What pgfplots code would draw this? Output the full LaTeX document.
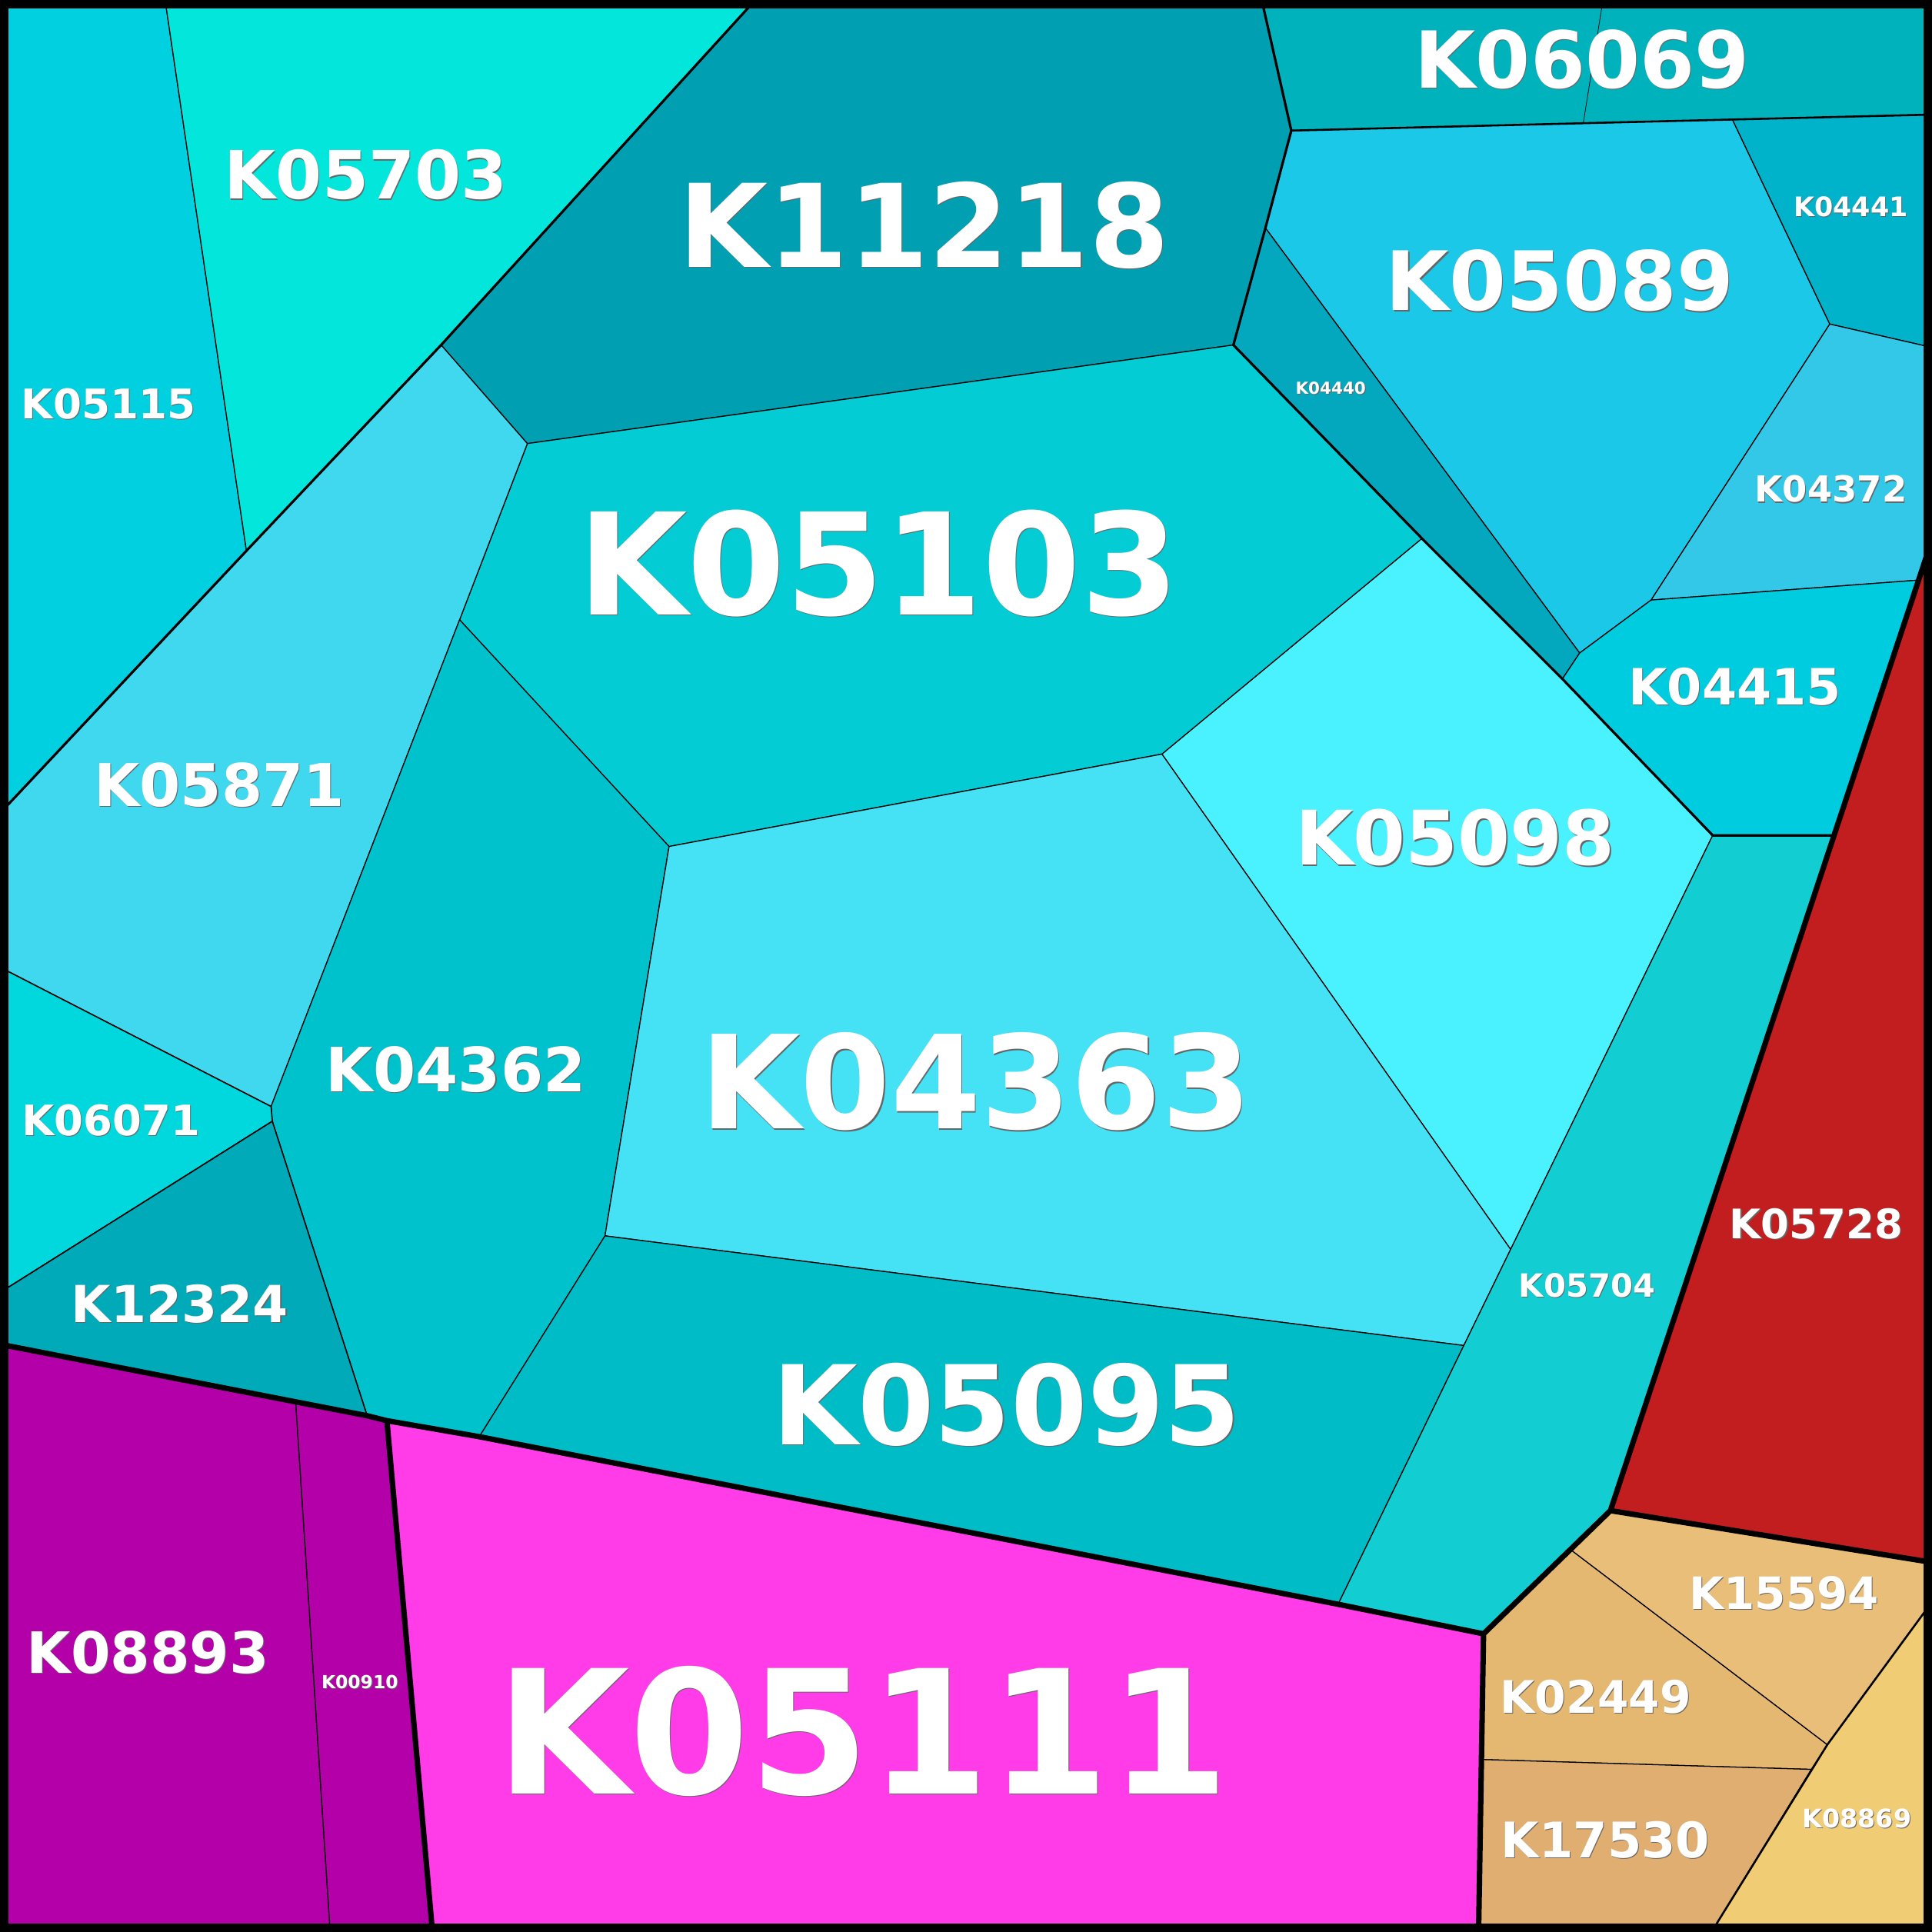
\documentclass[border=0pt]{standalone}
\usepackage{pgfplots}
\pgfplotsset{compat=1.18}
\usepackage{fontspec}
\setmainfont{DejaVu Sans}
\definecolor{cA}{HTML}{00D0E0}
\definecolor{cB}{HTML}{03E6DC}
\definecolor{cC}{HTML}{00A0B2}
\definecolor{cD}{HTML}{00B2BC}
\definecolor{cE}{HTML}{1CC8E8}
\definecolor{cF}{HTML}{00B2CA}
\definecolor{cG}{HTML}{33C8E8}
\definecolor{cH}{HTML}{03A8BE}
\definecolor{cI}{HTML}{00CCE0}
\definecolor{cJ}{HTML}{C21E20}
\definecolor{cK}{HTML}{4AF2FF}
\definecolor{cL}{HTML}{03CCD4}
\definecolor{cM}{HTML}{40D8EE}
\definecolor{cN}{HTML}{00C2CC}
\definecolor{cO}{HTML}{45E2F5}
\definecolor{cP}{HTML}{00BCC6}
\definecolor{cQ}{HTML}{12CDD2}
\definecolor{cR}{HTML}{00D8DE}
\definecolor{cS}{HTML}{00AAB8}
\definecolor{cT}{HTML}{B400A8}
\definecolor{cU}{HTML}{FF3CE8}
\definecolor{cV}{HTML}{E8BE78}
\definecolor{cW}{HTML}{E4B870}
\definecolor{cX}{HTML}{E0AE70}
\definecolor{cY}{HTML}{F0CC74}
\newcommand{\lab}[4]{%
\node[inner sep=0pt, text=black!60, xshift=0.35pt, yshift=-0.35pt, font=\fontsize{#3}{#3}\selectfont\bfseries] at (axis cs:#1,#2) {#4};
\node[inner sep=0pt, text=white, font=\fontsize{#3}{#3}\selectfont\bfseries] at (axis cs:#1,#2) {#4};}
\begin{document}
\begin{tikzpicture}
\begin{axis}[width=784pt, height=784pt, scale only axis, hide axis,
  xmin=0, xmax=1568, ymin=0, ymax=1568, y dir=reverse, clip=true]
% cells
\addplot[fill=cA, draw=black, line width=0.4pt] coordinates {(0,0) (134,0) (200,447) (0,660)} -- cycle;
\addplot[fill=cB, draw=black, line width=0.4pt] coordinates {(134,0) (613,0) (358,280) (200,447)} -- cycle;
\addplot[fill=cC, draw=black, line width=0.4pt] coordinates {(613,0) (1024,0) (1048,106) (1027,185) (1001,280) (428,360) (358,280)} -- cycle;
\addplot[fill=cD, draw=black, line width=0.2pt] coordinates {(1024,0) (1301,0) (1285,100) (1048,106)} -- cycle;
\addplot[fill=cD, draw=black, line width=0.2pt] coordinates {(1301,0) (1568,0) (1568,93) (1285,100)} -- cycle;
\addplot[fill=cE, draw=black, line width=0.4pt] coordinates {(1048,106) (1406,97) (1485,263) (1340,487) (1282,530) (1027,185)} -- cycle;
\addplot[fill=cF, draw=black, line width=0.4pt] coordinates {(1406,97) (1568,93) (1568,282) (1485,263)} -- cycle;
\addplot[fill=cG, draw=black, line width=0.4pt] coordinates {(1485,263) (1568,282) (1568,470) (1340,487)} -- cycle;
\addplot[fill=cH, draw=black, line width=0.4pt] coordinates {(1027,185) (1282,530) (1268,551) (1154,437) (1001,280)} -- cycle;
\addplot[fill=cI, draw=black, line width=0.4pt] coordinates {(1282,530) (1340,487) (1568,470) (1568,452) (1487,678) (1390,678) (1268,551)} -- cycle;
\addplot[fill=cJ, draw=black, line width=0.4pt] coordinates {(1568,440) (1568,1268) (1307,1226)} -- cycle;
\addplot[fill=cK, draw=black, line width=0.4pt] coordinates {(1154,437) (1268,551) (1390,678) (1226,1014) (943,612)} -- cycle;
\addplot[fill=cL, draw=black, line width=0.4pt] coordinates {(428,360) (1001,280) (1154,437) (943,612) (543,687) (373,503)} -- cycle;
\addplot[fill=cM, draw=black, line width=0.4pt] coordinates {(0,660) (200,447) (358,280) (428,360) (373,503) (220,898) (0,785)} -- cycle;
\addplot[fill=cN, draw=black, line width=0.4pt] coordinates {(373,503) (543,687) (491,1003) (389,1166) (298,1149) (221,910) (220,898)} -- cycle;
\addplot[fill=cO, draw=black, line width=0.4pt] coordinates {(543,687) (943,612) (1226,1014) (1188,1092) (491,1003)} -- cycle;
\addplot[fill=cP, draw=black, line width=0.4pt] coordinates {(491,1003) (1188,1092) (1086,1302) (389,1166)} -- cycle;
\addplot[fill=cQ, draw=black, line width=0.4pt] coordinates {(1390,678) (1487,678) (1307,1226) (1204,1326) (1086,1302) (1188,1092) (1226,1014)} -- cycle;
\addplot[fill=cR, draw=black, line width=0.5pt] coordinates {(0,785) (220,898) (221,910) (0,1049)} -- cycle;
\addplot[fill=cS, draw=black, line width=0.5pt] coordinates {(0,1049) (221,910) (298,1149) (0,1091)} -- cycle;
\addplot[fill=cT, draw=black, line width=0.4pt] coordinates {(0,1091) (240,1138) (268,1568) (0,1568)} -- cycle;
\addplot[fill=cT, draw=black, line width=0.4pt] coordinates {(240,1138) (314,1153) (351,1568) (268,1568)} -- cycle;
\addplot[fill=cU, draw=black, line width=0.4pt] coordinates {(314,1153) (1204,1326) (1200,1568) (351,1568)} -- cycle;
\addplot[fill=cV, draw=black, line width=0.4pt] coordinates {(1275,1258) (1307,1226) (1568,1268) (1568,1300) (1483,1416)} -- cycle;
\addplot[fill=cW, draw=black, line width=0.4pt] coordinates {(1204,1326) (1275,1258) (1483,1416) (1470,1436) (1203,1428)} -- cycle;
\addplot[fill=cX, draw=black, line width=0.4pt] coordinates {(1203,1428) (1470,1436) (1389,1568) (1200,1568)} -- cycle;
\addplot[fill=cY, draw=black, line width=0.4pt] coordinates {(1483,1416) (1568,1300) (1568,1568) (1389,1568)} -- cycle;
% medium boundaries
\addplot[black, line width=1pt] coordinates {(0,660) (200,447) (358,280) (613,0)};
\addplot[black, line width=1pt] coordinates {(1024,0) (1048,106) (1027,185) (1001,280) (1154,437) (1268,551) (1390,678) (1487,678)};
\addplot[black, line width=0.8pt] coordinates {(1048,106) (1285,100) (1568,93)};
\addplot[black, line width=0.8pt] coordinates {(1568,1300) (1483,1416) (1389,1568)};
% thick group boundaries
\addplot[black, line width=2.2pt, line join=round] coordinates {(0,1091) (298,1149) (314,1153) (389,1166) (1086,1302) (1204,1326) (1307,1226) (1564,450)};
\addplot[black, line width=2.2pt, line join=round] coordinates {(314,1153) (351,1568)};
\addplot[black, line width=2.2pt, line join=round] coordinates {(1204,1326) (1200,1568)};
\addplot[black, line width=2.2pt, line join=round] coordinates {(1307,1226) (1568,1268)};
% frame
\addplot[black, line width=3.5pt] coordinates {(3.5,3.5) (1564.5,3.5) (1564.5,1564.5) (3.5,1564.5)} -- cycle;
% labels
\lab{700}{1405}{69.9}{K05111}
\lab{792}{878}{52.6}{K04363}
\lab{713}{457}{57.4}{K05103}
\lab{750}{183}{46.8}{K11218}
\lab{817}{1140}{44.7}{K05095}
\lab{1181}{680}{30.5}{K05098}
\lab{1266}{228}{33.2}{K05089}
\lab{1284}{48}{31.9}{K06069}
\lab{297}{142}{27}{K05703}
\lab{178}{637}{23.9}{K05871}
\lab{370}{868}{24.8}{K04362}
\lab{146}{1058}{20.7}{K12324}
\lab{120}{1341}{23.1}{K08893}
\lab{88}{328}{16.6}{K05115}
\lab{90}{909}{17}{K06071}
\lab{1408}{557}{20.3}{K04415}
\lab{1486}{397}{14.5}{K04372}
\lab{1502}{168}{10.9}{K04441}
\lab{1080}{315}{6.7}{K04440}
\lab{1474}{993}{16.5}{K05728}
\lab{1288}{1043}{13}{K05704}
\lab{1448}{1293}{18.1}{K15594}
\lab{1295}{1377}{18.2}{K02449}
\lab{1303}{1493}{19.9}{K17530}
\lab{1507}{1476}{10.4}{K08869}
\lab{292}{1365}{7.3}{K00910}
\end{axis}
\end{tikzpicture}
\end{document}
